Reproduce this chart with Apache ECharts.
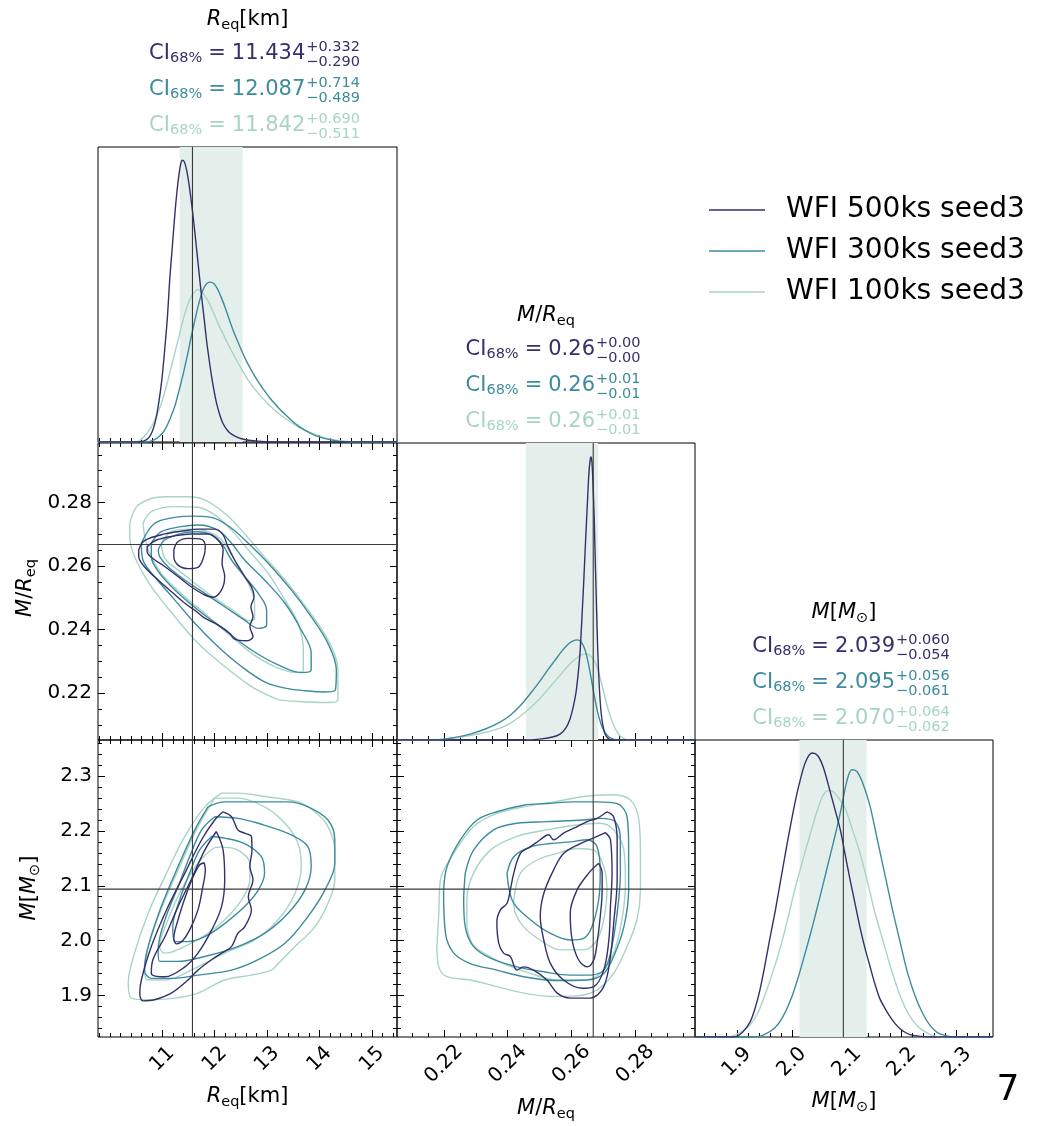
<!DOCTYPE html>
<html><head><meta charset="utf-8">
<script src="https://cdn.jsdelivr.net/npm/echarts@6/dist/echarts.min.js"></script>
<style>html,body{margin:0;padding:0;background:#fff}#c{width:1049px;height:1126px}</style>
</head><body><div id="c"></div>
<script>
// ---------------- DATA ----------------
const seriesNames = ['WFI 500ks seed3', 'WFI 300ks seed3', 'WFI 100ks seed3'];
const colors = ['#34306c', '#3c8c9c', '#a8d4c7'];
const bandColor = '#e4efeb';

// truth values
const truthR = 11.575, truthQ = 0.2668, truthM = 2.0938;

// axis ranges
const R_range = [9.773, 15.477];
const Q_range = [0.2053, 0.2987];
const M_range = [1.824, 2.366];

// tick values
const R_major = [11, 12, 13, 14, 15];
const R_minor = [9.8, 10.0, 10.2, 10.4, 10.6, 10.8, 11.0, 11.2, 11.4, 11.6, 11.8, 12.0, 12.2, 12.4, 12.6, 12.8, 13.0, 13.2, 13.4, 13.6, 13.8, 14.0, 14.2, 14.4, 14.6, 14.8, 15.0, 15.2, 15.4];
const Q_major = [0.22, 0.24, 0.26, 0.28];
const Q_minor = [0.21, 0.215, 0.22, 0.225, 0.23, 0.235, 0.24, 0.245, 0.25, 0.255, 0.26, 0.265, 0.27, 0.275, 0.28, 0.285, 0.29, 0.295];
const M_major = [1.9, 2.0, 2.1, 2.2, 2.3];
const M_minor = [1.84, 1.86, 1.88, 1.90, 1.92, 1.94, 1.96, 1.98, 2.00, 2.02, 2.04, 2.06, 2.08, 2.10, 2.12, 2.14, 2.16, 2.18, 2.20, 2.22, 2.24, 2.26, 2.28, 2.30, 2.32, 2.34, 2.36];

// 68% credible intervals [median, +err, -err]
const ciR = [['11.434', '+0.332', '\u22120.290'], ['12.087', '+0.714', '\u22120.489'], ['11.842', '+0.690', '\u22120.511']];
const ciQ = [['0.26', '+0.00', '\u22120.00'], ['0.26', '+0.01', '\u22120.01'], ['0.26', '+0.01', '\u22120.01']];
const ciM = [['2.039', '+0.060', '\u22120.054'], ['2.095', '+0.056', '\u22120.061'], ['2.070', '+0.064', '\u22120.062']];

// shaded 68% bands (last dataset)
const bandR = [11.331, 12.532];
const bandQ = [0.2457, 0.2683];
const bandM = [2.014, 2.136];

// 1D marginal densities (relative height)
const densR_500 = [[9.77,0],[10.55,0],[10.70,0.008],[10.79,0.028],[10.86,0.065],[10.92,0.119],[10.99,0.21],[11.05,0.322],[11.10,0.43],[11.14,0.548],[11.19,0.66],[11.24,0.774],[11.28,0.85],[11.32,0.910],[11.35,0.942],[11.38,0.955],[11.42,0.950],[11.46,0.925],[11.50,0.885],[11.55,0.820],[11.60,0.745],[11.65,0.661],[11.70,0.575],[11.75,0.492],[11.80,0.415],[11.84,0.350],[11.89,0.283],[11.94,0.222],[12.03,0.135],[12.10,0.090],[12.16,0.062],[12.24,0.040],[12.32,0.027],[12.51,0.011],[12.83,0.003],[13.40,0],[15.48,0]];
const densR_300 = [[9.77,0],[10.70,0],[10.85,0.008],[10.95,0.020],[11.05,0.042],[11.15,0.080],[11.24,0.122],[11.32,0.175],[11.40,0.232],[11.48,0.295],[11.55,0.356],[11.62,0.412],[11.68,0.458],[11.74,0.497],[11.80,0.525],[11.86,0.539],[11.92,0.542],[11.98,0.537],[12.05,0.520],[12.12,0.492],[12.20,0.455],[12.32,0.393],[12.42,0.348],[12.51,0.311],[12.60,0.276],[12.70,0.243],[12.82,0.207],[12.95,0.173],[13.08,0.143],[13.21,0.117],[13.34,0.094],[13.46,0.074],[13.60,0.054],[13.72,0.040],[13.88,0.025],[14.04,0.015],[14.20,0.008],[14.35,0.003],[14.70,0],[15.48,0]];
const densR_100 = [[9.77,0],[10.50,0],[10.65,0.018],[10.79,0.051],[10.89,0.088],[10.98,0.130],[11.06,0.178],[11.14,0.232],[11.22,0.290],[11.30,0.345],[11.37,0.395],[11.43,0.435],[11.49,0.468],[11.55,0.492],[11.61,0.508],[11.67,0.516],[11.73,0.512],[11.78,0.503],[11.84,0.488],[11.90,0.469],[11.98,0.437],[12.06,0.403],[12.16,0.366],[12.25,0.333],[12.35,0.299],[12.45,0.266],[12.55,0.236],[12.64,0.209],[12.76,0.180],[12.89,0.153],[13.02,0.128],[13.15,0.107],[13.28,0.088],[13.40,0.073],[13.53,0.058],[13.65,0.045],[13.80,0.033],[13.97,0.022],[14.15,0.012],[14.35,0.005],[14.70,0],[15.48,0]];

const densQ_500 = [[0.2053,0],[0.2450,0],[0.2500,0.003],[0.2540,0.010],[0.2564,0.02],[0.2582,0.040],[0.2595,0.07],[0.2605,0.11],[0.2614,0.16],[0.2621,0.225],[0.2627,0.30],[0.2633,0.42],[0.2639,0.55],[0.2644,0.67],[0.2649,0.78],[0.2654,0.89],[0.2658,0.940],[0.2661,0.953],[0.2664,0.935],[0.2667,0.87],[0.2671,0.75],[0.2674,0.62],[0.2677,0.50],[0.2680,0.38],[0.2683,0.28],[0.2687,0.18],[0.2692,0.10],[0.2698,0.05],[0.2705,0.02],[0.2715,0.005],[0.2727,0],[0.2987,0]];
const densQ_300 = [[0.2053,0],[0.2170,0],[0.2230,0.008],[0.2282,0.02],[0.2330,0.037],[0.2376,0.06],[0.2410,0.085],[0.2439,0.115],[0.2470,0.155],[0.2501,0.198],[0.2525,0.235],[0.2548,0.268],[0.2566,0.294],[0.2582,0.315],[0.2600,0.331],[0.2618,0.337],[0.2630,0.330],[0.2642,0.305],[0.2652,0.262],[0.2662,0.205],[0.2672,0.145],[0.2682,0.093],[0.2693,0.052],[0.2705,0.025],[0.2720,0.008],[0.2745,0],[0.2987,0]];
const densQ_100 = [[0.2053,0],[0.2170,0],[0.2230,0.006],[0.2282,0.015],[0.2330,0.026],[0.2376,0.04],[0.2410,0.058],[0.2439,0.08],[0.2470,0.108],[0.2501,0.14],[0.2532,0.178],[0.2564,0.218],[0.2590,0.250],[0.2611,0.272],[0.2628,0.285],[0.2642,0.290],[0.2656,0.286],[0.2668,0.272],[0.2680,0.245],[0.2690,0.208],[0.2700,0.165],[0.2710,0.122],[0.2721,0.082],[0.2733,0.047],[0.2746,0.022],[0.2760,0.007],[0.2780,0],[0.2987,0]];

const densM_500 = [[1.824,0],[1.895,0],[1.910,0.015],[1.924,0.05],[1.933,0.095],[1.942,0.158],[1.951,0.24],[1.960,0.33],[1.970,0.425],[1.979,0.52],[1.992,0.655],[2.006,0.79],[2.016,0.87],[2.026,0.93],[2.037,0.956],[2.047,0.948],[2.057,0.91],[2.069,0.832],[2.078,0.77],[2.088,0.70],[2.097,0.615],[2.106,0.53],[2.115,0.45],[2.124,0.37],[2.133,0.30],[2.142,0.24],[2.151,0.18],[2.160,0.13],[2.170,0.095],[2.179,0.068],[2.188,0.045],[2.197,0.028],[2.206,0.016],[2.215,0.008],[2.235,0.002],[2.260,0],[2.366,0]];
const densM_300 = [[1.824,0],[1.935,0],[1.950,0.008],[1.969,0.03],[1.983,0.065],[1.997,0.12],[2.010,0.19],[2.024,0.28],[2.038,0.375],[2.051,0.47],[2.065,0.575],[2.079,0.68],[2.090,0.77],[2.100,0.86],[2.109,0.90],[2.118,0.895],[2.128,0.86],[2.142,0.78],[2.155,0.67],[2.169,0.55],[2.183,0.43],[2.197,0.32],[2.210,0.22],[2.224,0.14],[2.238,0.08],[2.251,0.04],[2.265,0.015],[2.284,0.003],[2.300,0],[2.366,0]];
const densM_100 = [[1.824,0],[1.885,0],[1.900,0.01],[1.912,0.022],[1.924,0.04],[1.938,0.08],[1.951,0.14],[1.965,0.215],[1.979,0.30],[1.993,0.40],[2.006,0.50],[2.020,0.595],[2.033,0.68],[2.046,0.76],[2.056,0.81],[2.066,0.83],[2.076,0.825],[2.087,0.80],[2.097,0.77],[2.110,0.70],[2.124,0.62],[2.138,0.52],[2.151,0.42],[2.165,0.33],[2.179,0.24],[2.192,0.165],[2.206,0.10],[2.220,0.055],[2.233,0.03],[2.250,0.01],[2.273,0],[2.366,0]];

// 2D contours: [inner, middle, outer]
const contRQ_500 = [
 [[11.22,0.2651],[11.30,0.2677],[11.49,0.2687],[11.75,0.2684],[11.82,0.2661],[11.78,0.2624],[11.68,0.2596],[11.49,0.2592],[11.30,0.2603],[11.22,0.2630]],
 [[10.71,0.2661],[10.89,0.2682],[11.24,0.2695],[11.55,0.2701],[11.87,0.2701],[12.06,0.2682],[12.16,0.2651],[12.14,0.2609],[12.19,0.2567],[12.13,0.2525],[11.97,0.2502],[11.81,0.2509],[11.55,0.2535],[11.30,0.2567],[11.05,0.2598],[10.82,0.2624],[10.71,0.2645]],
 [[10.55,0.2651],[10.66,0.2680],[11.05,0.2701],[11.43,0.2711],[11.68,0.2716],[12.00,0.2716],[12.16,0.2698],[12.25,0.2661],[12.38,0.2619],[12.57,0.2567],[12.70,0.2535],[12.75,0.2504],[12.69,0.2472],[12.73,0.2441],[12.67,0.2410],[12.73,0.2378],[12.60,0.2365],[12.38,0.2370],[12.29,0.2388],[12.06,0.2415],[11.81,0.2436],[11.65,0.2457],[11.43,0.2483],[11.17,0.2520],[10.92,0.2556],[10.66,0.2598],[10.55,0.2630]]
];
const contRQ_300 = [
 [[10.92,0.2651],[11.05,0.2682],[11.43,0.2705],[11.68,0.2708],[11.94,0.2698],[12.13,0.2672],[12.32,0.2619],[12.57,0.2567],[12.83,0.2514],[12.99,0.2462],[12.99,0.2415],[12.83,0.2404],[12.57,0.2430],[12.19,0.2472],[11.81,0.2514],[11.43,0.2556],[11.11,0.2598],[10.95,0.2630]],
 [[10.79,0.2672],[10.98,0.2708],[11.36,0.2724],[11.68,0.2729],[12.06,0.2713],[12.32,0.2672],[12.57,0.2619],[12.95,0.2556],[13.34,0.2483],[13.65,0.2399],[13.84,0.2326],[13.84,0.2273],[13.65,0.2265],[13.21,0.2289],[12.70,0.2336],[12.19,0.2399],[11.68,0.2462],[11.24,0.2525],[10.95,0.2577],[10.79,0.2630]],
 [[10.60,0.2672],[10.85,0.2734],[11.24,0.2753],[11.62,0.2757],[12.00,0.2750],[12.32,0.2719],[12.64,0.2672],[13.02,0.2609],[13.46,0.2525],[13.84,0.2441],[14.16,0.2357],[14.32,0.2273],[14.30,0.2210],[14.10,0.2204],[13.72,0.2208],[13.34,0.2216],[12.95,0.2236],[12.51,0.2284],[12.06,0.2347],[11.62,0.2420],[11.24,0.2493],[10.85,0.2567],[10.63,0.2619]]
];
const contRQ_100 = [
 [[10.98,0.2672],[11.17,0.2708],[11.49,0.2716],[11.81,0.2711],[12.13,0.2682],[12.38,0.2619],[12.64,0.2546],[12.76,0.2483],[12.76,0.2436],[12.67,0.2428],[12.38,0.2457],[12.00,0.2499],[11.62,0.2546],[11.30,0.2588],[11.05,0.2624]],
 [[10.63,0.2734],[10.79,0.2771],[11.24,0.2787],[11.68,0.2785],[12.00,0.2761],[12.32,0.2713],[12.64,0.2651],[13.02,0.2577],[13.34,0.2493],[13.59,0.2420],[13.69,0.2336],[13.69,0.2273],[13.56,0.2265],[13.14,0.2284],[12.70,0.2326],[12.25,0.2388],[11.81,0.2451],[11.36,0.2514],[10.98,0.2577],[10.73,0.2651]],
 [[10.38,0.2734],[10.54,0.2792],[11.05,0.2818],[11.49,0.2818],[11.81,0.2808],[12.19,0.2766],[12.51,0.2713],[12.89,0.2640],[13.34,0.2556],[13.78,0.2462],[14.16,0.2368],[14.35,0.2273],[14.35,0.2179],[14.16,0.2171],[13.59,0.2174],[13.24,0.2179],[13.08,0.2189],[12.70,0.2221],[12.19,0.2284],[11.68,0.2357],[11.24,0.2441],[10.79,0.2535],[10.47,0.2630],[10.38,0.2692]]
];

const contRM_500 = [
 [[11.80,2.142],[11.82,2.129],[11.76,2.092],[11.68,2.056],[11.55,2.025],[11.40,2.001],[11.27,1.994],[11.22,2.004],[11.30,2.038],[11.44,2.080],[11.59,2.117],[11.71,2.138]],
 [[12.03,2.199],[12.16,2.165],[12.19,2.111],[12.13,2.062],[11.94,2.019],[11.68,1.977],[11.43,1.952],[11.05,1.934],[10.79,1.940],[10.82,1.965],[11.05,2.007],[11.30,2.062],[11.55,2.111],[11.81,2.165]],
 [[12.16,2.235],[12.32,2.226],[12.44,2.202],[12.57,2.196],[12.70,2.190],[12.71,2.165],[12.67,2.135],[12.73,2.111],[12.64,2.080],[12.70,2.056],[12.57,2.025],[12.44,2.013],[12.32,1.989],[12.13,1.977],[11.94,1.965],[11.68,1.946],[11.49,1.928],[11.17,1.904],[10.85,1.892],[10.63,1.890],[10.57,1.904],[10.60,1.928],[10.79,1.989],[11.11,2.062],[11.43,2.123],[11.75,2.184],[12.00,2.220]]
];
const contRM_300 = [
 [[11.94,2.190],[12.19,2.187],[12.57,2.177],[12.89,2.153],[12.95,2.123],[12.83,2.092],[12.57,2.062],[12.19,2.031],[11.81,2.007],[11.49,1.998],[11.24,1.998],[11.20,2.025],[11.33,2.074],[11.52,2.123],[11.71,2.165]],
 [[12.00,2.226],[12.44,2.223],[12.83,2.214],[13.46,2.193],[13.78,2.171],[13.84,2.135],[13.72,2.092],[13.40,2.050],[12.95,2.013],[12.44,1.989],[11.81,1.971],[11.30,1.962],[10.95,1.962],[10.92,1.983],[11.05,2.038],[11.30,2.098],[11.52,2.153],[11.75,2.202]],
 [[11.87,2.244],[12.19,2.253],[12.76,2.253],[13.40,2.253],[13.78,2.244],[14.16,2.220],[14.29,2.184],[14.29,2.141],[14.10,2.092],[13.78,2.044],[13.34,1.995],[12.83,1.965],[12.32,1.946],[11.68,1.937],[11.17,1.931],[10.79,1.931],[10.66,1.946],[10.73,1.989],[10.98,2.062],[11.30,2.135],[11.62,2.202]]
];
const contRM_100 = [
 [[12.13,2.171],[12.44,2.165],[12.67,2.141],[12.67,2.111],[12.51,2.074],[12.19,2.038],[11.87,2.013],[11.49,1.992],[11.05,1.977],[10.95,1.989],[11.11,2.038],[11.36,2.092],[11.68,2.141],[11.97,2.168]],
 [[12.00,2.260],[12.44,2.260],[12.95,2.244],[13.34,2.214],[13.59,2.177],[13.65,2.135],[13.53,2.086],[13.21,2.038],[12.76,2.001],[12.19,1.977],[11.55,1.946],[11.05,1.928],[10.70,1.929],[10.66,1.952],[10.79,2.007],[11.05,2.074],[11.36,2.141],[11.68,2.208]],
 [[12.13,2.269],[12.44,2.269],[12.95,2.263],[13.59,2.253],[13.91,2.235],[14.16,2.208],[14.29,2.165],[14.29,2.111],[14.16,2.068],[13.91,2.025],[13.53,1.989],[13.21,1.958],[13.08,1.946],[12.70,1.937],[12.19,1.928],[11.68,1.904],[11.24,1.895],[10.73,1.892],[10.41,1.895],[10.35,1.922],[10.47,1.977],[10.73,2.050],[11.05,2.117],[11.43,2.190],[11.81,2.244]]
];

const contQM_500 = [
 [[0.2685,2.141],[0.2696,2.123],[0.2696,2.092],[0.2690,2.044],[0.2680,1.995],[0.2670,1.965],[0.2649,1.952],[0.2622,1.965],[0.2602,2.001],[0.2596,2.050],[0.2617,2.092],[0.2654,2.123]],
 [[0.2706,2.197],[0.2722,2.184],[0.2727,2.123],[0.2722,2.062],[0.2717,2.001],[0.2701,1.946],[0.2670,1.916],[0.2633,1.913],[0.2575,1.928],[0.2534,1.958],[0.2513,2.001],[0.2502,2.044],[0.2513,2.086],[0.2544,2.129],[0.2575,2.159],[0.2628,2.177],[0.2680,2.190]],
 [[0.2711,2.235],[0.2732,2.226],[0.2743,2.184],[0.2743,2.111],[0.2732,2.031],[0.2722,1.971],[0.2701,1.916],[0.2659,1.895],[0.2596,1.895],[0.2555,1.904],[0.2523,1.928],[0.2481,1.946],[0.2450,1.952],[0.2429,1.946],[0.2408,1.971],[0.2387,1.977],[0.2372,1.995],[0.2366,2.034],[0.2377,2.056],[0.2398,2.068],[0.2408,2.092],[0.2419,2.123],[0.2440,2.159],[0.2471,2.171],[0.2502,2.184],[0.2528,2.193],[0.2544,2.184],[0.2575,2.196],[0.2607,2.205],[0.2649,2.217],[0.2680,2.223]]
];
const contQM_300 = [
 [[0.2398,2.123],[0.2419,2.153],[0.2471,2.171],[0.2534,2.177],[0.2596,2.180],[0.2649,2.184],[0.2680,2.171],[0.2690,2.123],[0.2685,2.074],[0.2664,2.025],[0.2638,2.004],[0.2596,2.001],[0.2534,2.013],[0.2471,2.038],[0.2419,2.068],[0.2403,2.098]],
 [[0.2267,2.123],[0.2293,2.165],[0.2356,2.202],[0.2429,2.214],[0.2523,2.217],[0.2638,2.220],[0.2690,2.223],[0.2737,2.217],[0.2753,2.184],[0.2753,2.123],[0.2743,2.050],[0.2722,1.977],[0.2701,1.946],[0.2659,1.937],[0.2596,1.937],[0.2513,1.943],[0.2429,1.952],[0.2346,1.968],[0.2293,1.989],[0.2267,2.025],[0.2262,2.074]],
 [[0.2199,2.092],[0.2210,2.135],[0.2252,2.184],[0.2304,2.220],[0.2366,2.235],[0.2450,2.247],[0.2523,2.250],[0.2607,2.253],[0.2680,2.253],[0.2743,2.250],[0.2774,2.226],[0.2779,2.171],[0.2779,2.092],[0.2764,2.025],[0.2732,1.971],[0.2701,1.940],[0.2649,1.928],[0.2555,1.927],[0.2450,1.934],[0.2366,1.946],[0.2283,1.958],[0.2231,1.977],[0.2205,2.013]]
];
const contQM_100 = [
 [[0.2419,2.074],[0.2440,2.123],[0.2492,2.147],[0.2555,2.159],[0.2617,2.168],[0.2670,2.165],[0.2701,2.135],[0.2711,2.092],[0.2701,2.038],[0.2680,2.001],[0.2638,1.983],[0.2565,1.983],[0.2502,2.001],[0.2450,2.025],[0.2424,2.050]],
 [[0.2272,2.025],[0.2272,2.074],[0.2293,2.123],[0.2346,2.165],[0.2429,2.190],[0.2523,2.202],[0.2617,2.211],[0.2690,2.214],[0.2732,2.202],[0.2764,2.165],[0.2769,2.104],[0.2758,2.038],[0.2732,1.977],[0.2690,1.940],[0.2638,1.928],[0.2555,1.928],[0.2471,1.940],[0.2387,1.958],[0.2325,1.977],[0.2288,1.995]],
 [[0.2178,1.989],[0.2184,2.050],[0.2189,2.111],[0.2231,2.159],[0.2293,2.208],[0.2366,2.232],[0.2450,2.244],[0.2544,2.253],[0.2638,2.263],[0.2722,2.266],[0.2784,2.257],[0.2811,2.220],[0.2816,2.159],[0.2816,2.092],[0.2805,2.038],[0.2774,1.989],[0.2732,1.940],[0.2680,1.910],[0.2617,1.899],[0.2534,1.898],[0.2450,1.904],[0.2366,1.916],[0.2283,1.928],[0.2210,1.934],[0.2184,1.952]]
];

// ---------------- BUILD ----------------
const FF = '"DejaVu Sans"';
const mctx = document.createElement('canvas').getContext('2d');
function fnt(size, it) { return (it ? 'italic ' : '') + size + 'px ' + FF; }
function tw(t, f) { mctx.font = f; return mctx.measureText(t).width; }
function mtext(parts, cx, cy, o) {
  o = o || {};
  const S = o.size || 21, s = o.small || 14.5, col = o.color || '#000';
  const kids = []; let x = 0;
  const T = (t, f, y) => kids.push({type: 'text', x: x, y: y, silent: true,
    style: {text: t, font: f, fill: col, align: 'left', verticalAlign: 'middle', textAlign: 'left', textVerticalAlign: 'middle'}});
  for (const p of parts) {
    if (p.gap) { x += p.gap; continue; }
    if (p.sub !== undefined) { const f = fnt(s, false); T(p.sub, f, o.subDy || 5); x += tw(p.sub, f); continue; }
    if (p.stack) { const f = fnt(s, false); T(p.stack[0], f, -7); T(p.stack[1], f, 8); x += Math.max(tw(p.stack[0], f), tw(p.stack[1], f)); continue; }
    const f = fnt(S, p.it); T(p.t, f, 0); x += tw(p.t, f);
  }
  kids.forEach(k => { k.x -= x / 2; });
  return {type: 'group', x: cx, y: cy, rotation: o.rot || 0, children: kids};
}

const AX = {
  R: {min: R_range[0], max: R_range[1], major: R_major, minor: R_minor, fmt: v => String(Math.round(v)), margin: 22},
  q: {min: Q_range[0], max: Q_range[1], major: Q_major, minor: Q_minor, fmt: v => v.toFixed(2), margin: 27},
  M: {min: M_range[0], max: M_range[1], major: M_major, minor: M_minor, fmt: v => v.toFixed(1), margin: 25}
};

const grids = [], xAxes = [], yAxes = [], series = [];
function mkAxis(arr, dim, gi, def, pos, major, showLabels) {
  const a = {
    type: 'value', gridIndex: gi, position: pos, min: def.min, max: def.max,
    axisLine: {show: false}, splitLine: {show: false},
    axisTick: {show: true, inside: true, length: major ? 7 : 4, lineStyle: {color: '#000', width: 1}, customValues: major ? def.major : def.minor},
    axisLabel: {show: !!showLabels, customValues: def.major, formatter: def.fmt, fontSize: 20, fontFamily: 'DejaVu Sans', color: '#000'}
  };
  if (dim === 'x') Object.assign(a.axisLabel, {rotate: 45, align: 'center', verticalAlign: 'middle', margin: def.margin});
  else Object.assign(a.axisLabel, {margin: 6});
  arr.push(a);
  return arr.length - 1;
}

const panels = [
  {left: 98, top: 147, w: 299, h: 295, x: 'R', diag: true, xl: false, dens: [densR_500, densR_300, densR_100], band: bandR, truth: truthR},
  {left: 98, top: 443, w: 299, h: 297, x: 'R', y: 'q', xl: false, yl: true, cont: [contRQ_500, contRQ_300, contRQ_100], tx: truthR, ty: truthQ},
  {left: 397, top: 443, w: 298, h: 297, x: 'q', diag: true, xl: false, dens: [densQ_500, densQ_300, densQ_100], band: bandQ, truth: truthQ},
  {left: 98, top: 740, w: 299, h: 297, x: 'R', y: 'M', xl: true, yl: true, cont: [contRM_500, contRM_300, contRM_100], tx: truthR, ty: truthM},
  {left: 397, top: 740, w: 298, h: 297, x: 'q', y: 'M', xl: true, yl: false, cont: [contQM_500, contQM_300, contQM_100], tx: truthQ, ty: truthM},
  {left: 695, top: 740, w: 298, h: 297, x: 'M', diag: true, xl: true, dens: [densM_500, densM_300, densM_100], band: bandM, truth: truthM}
];

const truthColor = '#3a3a3a';
panels.forEach((p, gi) => {
  grids.push({left: p.left, top: p.top, width: p.w, height: p.h, show: true, borderColor: '#000', borderWidth: 1, backgroundColor: 'transparent'});
  const xd = AX[p.x];
  const xi = mkAxis(xAxes, 'x', gi, xd, 'bottom', true, p.xl);
  mkAxis(xAxes, 'x', gi, xd, 'bottom', false, false);
  let yi;
  if (p.diag) {
    yAxes.push({type: 'value', gridIndex: gi, min: 0, max: 1, show: false});
    yi = yAxes.length - 1;
    series.push({type: 'line', xAxisIndex: xi, yAxisIndex: yi, data: [[p.band[0], 1], [p.band[1], 1]], symbol: 'none',
      lineStyle: {width: 0}, areaStyle: {color: bandColor, opacity: 1}, z: 1, silent: true});
    [2, 1, 0].forEach(k => {
      series.push({type: 'line', name: seriesNames[k], xAxisIndex: xi, yAxisIndex: yi, data: p.dens[k], symbol: 'none', smooth: 0.3,
        lineStyle: {color: colors[k], width: 1.4}, itemStyle: {color: colors[k]}, color: colors[k], z: 3, silent: true});
    });
    series.push({type: 'line', xAxisIndex: xi, yAxisIndex: yi, data: [[p.truth, 0], [p.truth, 1]], symbol: 'none',
      lineStyle: {color: truthColor, width: 1.1}, z: 5, silent: true});
  } else {
    const yd = AX[p.y];
    mkAxis(xAxes, 'x', gi, xd, 'top', true, false);
    mkAxis(xAxes, 'x', gi, xd, 'top', false, false);
    yi = mkAxis(yAxes, 'y', gi, yd, 'left', true, p.yl);
    mkAxis(yAxes, 'y', gi, yd, 'left', false, false);
    mkAxis(yAxes, 'y', gi, yd, 'right', true, false);
    mkAxis(yAxes, 'y', gi, yd, 'right', false, false);
    [2, 1, 0].forEach(k => {
      p.cont[k].forEach(loop => {
        series.push({type: 'line', name: seriesNames[k], xAxisIndex: xi, yAxisIndex: yi, data: loop.concat([loop[0]]), symbol: 'none', smooth: 0.35,
          lineStyle: {color: colors[k], width: 1.4}, itemStyle: {color: colors[k]}, color: colors[k], z: 3, silent: true});
      });
    });
    series.push({type: 'line', xAxisIndex: xi, yAxisIndex: yi, data: [[p.tx, yd.min], [p.tx, yd.max]], symbol: 'none',
      lineStyle: {color: truthColor, width: 1.1}, z: 5, silent: true});
    series.push({type: 'line', xAxisIndex: xi, yAxisIndex: yi, data: [[xd.min, p.ty], [xd.max, p.ty]], symbol: 'none',
      lineStyle: {color: truthColor, width: 1.1}, z: 5, silent: true});
  }
});

// ---------------- TEXT ----------------
const G = [];
const lblR = [{t: 'R', it: true}, {sub: 'eq'}, {t: '[km]'}];
const lblQ = [{t: 'M', it: true}, {t: '/'}, {t: 'R', it: true}, {sub: 'eq'}];
const lblM = [{t: 'M', it: true}, {t: '['}, {t: 'M', it: true}, {sub: '\u2299'}, {t: ']'}];
function ciParts(c) { return [{t: 'CI'}, {sub: '68%'}, {gap: 6}, {t: '='}, {gap: 6}, {t: c[0]}, {gap: 1}, {stack: [c[1], c[2]]}]; }
[[panels[0], lblR, ciR], [panels[2], lblQ, ciQ], [panels[5], lblM, ciM]].forEach(([p, lbl, ci]) => {
  const cx = p.left + p.w / 2, T = p.top;
  G.push(mtext(lbl, cx, T - 127, {}));
  ci.forEach((c, k) => G.push(mtext(ciParts(c), cx + 7, T - 93 + k * 36, {color: colors[k], subDy: 4})));
});
// axis names
G.push(mtext(lblR, 247.5, 1097, {}));
G.push(mtext(lblQ, 546, 1109, {}));
G.push(mtext(lblM, 844, 1102, {}));
G.push(mtext(lblQ, 26, 588, {rot: Math.PI / 2}));
G.push(mtext(lblM, 30, 888, {rot: Math.PI / 2}));
// page number
G.push({type: 'text', x: 1008, y: 1091, silent: true, style: {text: '7', font: '36px ' + FF, fill: '#000', align: 'center', verticalAlign: 'middle', textAlign: 'center', textVerticalAlign: 'middle'}});

const option = {
  animation: false,
  backgroundColor: '#fff',
  grid: grids, xAxis: xAxes, yAxis: yAxes, series: series,
  legend: {
    data: seriesNames, orient: 'vertical', left: 704, top: 190, itemWidth: 56, itemHeight: 1.6, itemGap: 11,
    icon: 'rect', selectedMode: false,
    formatter: n => '{p|}' + n,
    textStyle: {fontSize: 28, fontFamily: 'DejaVu Sans', color: '#000', lineHeight: 30, rich: {p: {width: 16}}}
  },
  graphic: {elements: G}
};
const chart = echarts.init(document.getElementById('c'), null, {renderer: 'canvas', width: 1049, height: 1126});
chart.setOption(option);
</script>
</body></html>
